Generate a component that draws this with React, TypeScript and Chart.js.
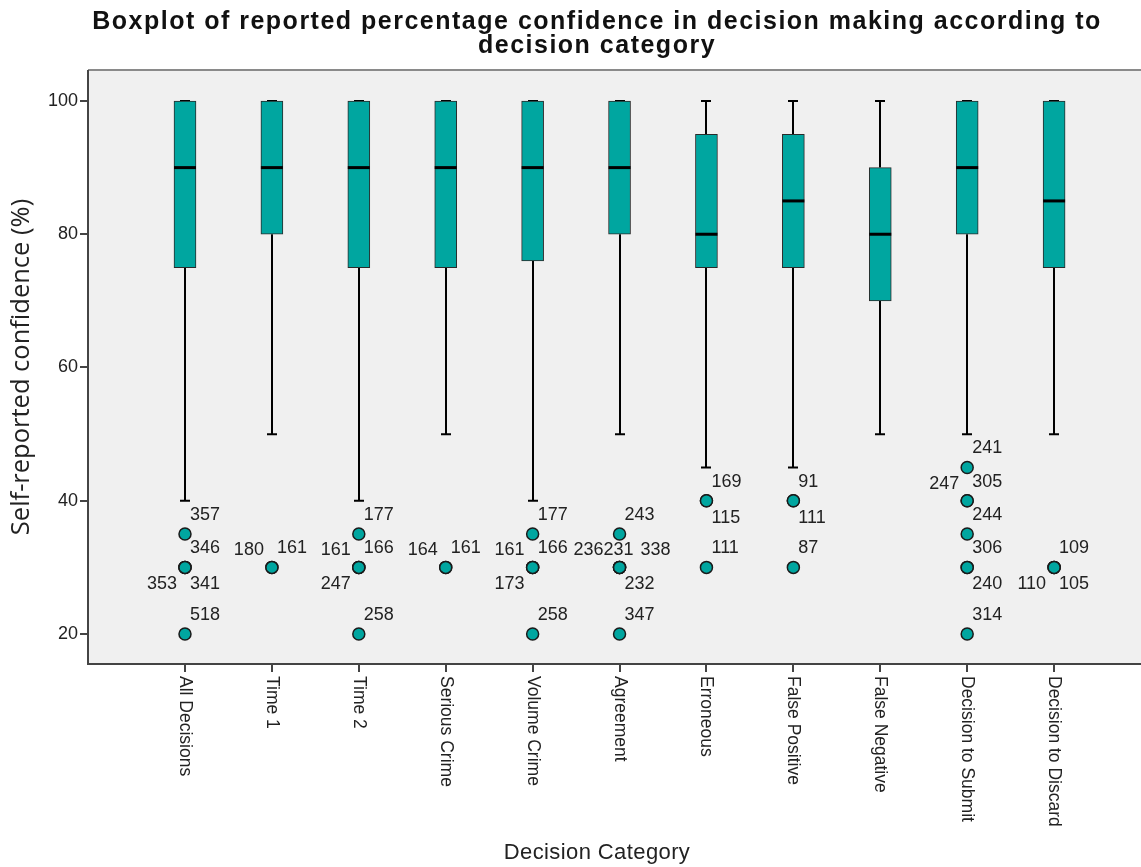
import React, { useEffect, useRef } from "react";
import { Chart, registerables } from "chart.js";

Chart.register(...registerables);

const categories = [
  "All Decisions",
  "Time 1",
  "Time 2",
  "Serious Crime",
  "Volume Crime",
  "Agreement",
  "Erroneous",
  "False Positive",
  "False Negative",
  "Decision to Submit",
  "Decision to Discard",
];
const whiskerLow = [40, 50, 40, 50, 40, 50, 45, 45, 50, 50, 50];
const q1 = [75, 80, 75, 75, 76, 80, 75, 75, 70, 80, 75];
const median = [90, 90, 90, 90, 90, 90, 80, 85, 80, 90, 85];
const q3 = [100, 100, 100, 100, 100, 100, 95, 95, 90, 100, 100];
const whiskerHigh = [100, 100, 100, 100, 100, 100, 100, 100, 100, 100, 100];

// outliers: category index, value, case id, label side
const outlierCat = [
  0, 0, 0, 0, 0,
  1, 1,
  2, 2, 2, 2, 2,
  3, 3,
  4, 4, 4, 4, 4,
  5, 5, 5, 5, 5, 5,
  6, 6, 6,
  7, 7, 7,
  9, 9, 9, 9, 9, 9, 9,
  10, 10, 10,
];
const outlierValue = [
  35, 30, 30, 30, 20,
  30, 30,
  35, 30, 30, 30, 20,
  30, 30,
  35, 30, 30, 30, 20,
  35, 30, 30, 30, 30, 20,
  40, 40, 30,
  40, 40, 30,
  45, 40, 40, 35, 30, 30, 20,
  30, 30, 30,
];
const outlierId = [
  "357", "346", "353", "341", "518",
  "180", "161",
  "177", "161", "166", "247", "258",
  "164", "161",
  "177", "161", "166", "173", "258",
  "243", "236", "231", "338", "232", "347",
  "169", "115", "111",
  "91", "111", "87",
  "241", "247", "305", "244", "306", "240", "314",
  "109", "110", "105",
];
const outlierSide = [
  "ur", "ur", "ll", "lr", "ur",
  "ul", "ur",
  "ur", "ul", "ur", "ll", "ur",
  "ul", "ur",
  "ur", "ul", "ur", "ll", "ur",
  "ur", "ul2", "uc", "ur2", "lr", "ur",
  "ur", "lr", "ur",
  "ur", "lr", "ur",
  "ur", "ul", "ur", "ur", "ur", "lr", "ur",
  "ur", "ll", "lr",
];

const titleLines = [
  "Boxplot of reported percentage confidence in decision making according to",
  "decision category",
];
const yTitle = "Self-reported confidence (%)";
const xTitle = "Decision Category";
const yTicks = [20, 40, 60, 80, 100];

const TEAL = "#00a6a0";
const SANS = "'Liberation Sans', Arial, sans-serif";

const boxPlugin = {
  id: "boxExtras",
  beforeDraw(chart: any) {
    const { ctx, chartArea } = chart;
    ctx.save();
    ctx.fillStyle = "#ffffff";
    ctx.fillRect(0, 0, chart.width, chart.height);
    ctx.fillStyle = "#f0f0f0";
    ctx.fillRect(chartArea.left, chartArea.top, chartArea.right - chartArea.left, chartArea.bottom - chartArea.top);
    ctx.restore();
  },
  beforeDatasetsDraw(chart: any) {
    const { ctx } = chart;
    const xs = chart.scales.x;
    const ys = chart.scales.y;
    ctx.save();
    ctx.strokeStyle = "#000";
    ctx.lineWidth = 2;
    categories.forEach((_, i) => {
      const x = Math.round(xs.getPixelForValue(i));
      const lo = ys.getPixelForValue(whiskerLow[i]);
      const b = ys.getPixelForValue(q1[i]);
      const t = ys.getPixelForValue(q3[i]);
      const hi = ys.getPixelForValue(whiskerHigh[i]);
      ctx.beginPath();
      ctx.moveTo(x, lo);
      ctx.lineTo(x, b);
      ctx.moveTo(x, t);
      ctx.lineTo(x, hi);
      ctx.stroke();
      ctx.beginPath();
      ctx.moveTo(x - 5, lo);
      ctx.lineTo(x + 5, lo);
      ctx.moveTo(x - 5, hi);
      ctx.lineTo(x + 5, hi);
      ctx.stroke();
    });
    ctx.restore();
  },
  afterDatasetsDraw(chart: any) {
    const { ctx, chartArea } = chart;
    const xs = chart.scales.x;
    const ys = chart.scales.y;
    ctx.save();
    // medians
    ctx.strokeStyle = "#000";
    ctx.lineWidth = 3;
    categories.forEach((_, i) => {
      const x = xs.getPixelForValue(i);
      const m = ys.getPixelForValue(median[i]);
      ctx.beginPath();
      ctx.moveTo(x - 11, m);
      ctx.lineTo(x + 11, m);
      ctx.stroke();
    });
    // outlier labels
    ctx.fillStyle = "#222";
    ctx.font = "18px " + SANS;
    ctx.textBaseline = "middle";
    outlierId.forEach((id, k) => {
      const px = xs.getPixelForValue(outlierCat[k]);
      const py = ys.getPixelForValue(outlierValue[k]);
      const side = outlierSide[k];
      let tx = px + 5;
      let ty = py - 18;
      let align: CanvasTextAlign = "left";
      if (side === "ur") { tx = px + 5; ty = py - 19; }
      else if (side === "lr") { tx = px + 5; ty = py + 17; }
      else if (side === "ul") { tx = px - 8; ty = py - 17; align = "right"; }
      else if (side === "ll") { tx = px - 8; ty = py + 17; align = "right"; }
      else if (side === "uc") { tx = px - 16; ty = py - 17; }
      else if (side === "ul2") { tx = px - 16; ty = py - 17; align = "right"; }
      else if (side === "ur2") { tx = px + 21; ty = py - 17; }
      ctx.textAlign = align;
      ctx.fillText(id, tx, ty);
    });
    ctx.restore();

    // frame lines
    ctx.save();
    ctx.strokeStyle = "#8a8a8a";
    ctx.lineWidth = 2;
    ctx.beginPath();
    ctx.moveTo(chartArea.left, chartArea.top);
    ctx.lineTo(chartArea.right, chartArea.top);
    ctx.stroke();
    ctx.strokeStyle = "#444";
    ctx.beginPath();
    ctx.moveTo(chartArea.left, chartArea.top);
    ctx.lineTo(chartArea.left, chartArea.bottom);
    ctx.lineTo(chartArea.right, chartArea.bottom);
    ctx.stroke();
    ctx.restore();
  },
  afterDraw(chart: any) {
    const { ctx, chartArea } = chart;
    const xs = chart.scales.x;
    ctx.save();
    // x tick marks and rotated labels
    ctx.strokeStyle = "#444";
    ctx.lineWidth = 2;
    ctx.fillStyle = "#222";
    ctx.font = "17.5px " + SANS;
    categories.forEach((c, i) => {
      const x = Math.round(xs.getPixelForValue(i));
      ctx.beginPath();
      ctx.moveTo(x, chartArea.bottom);
      ctx.lineTo(x, chartArea.bottom + 8);
      ctx.stroke();
      ctx.save();
      ctx.translate(x, chartArea.bottom + 12);
      ctx.rotate(Math.PI / 2);
      ctx.textAlign = "left";
      ctx.textBaseline = "middle";
      ctx.fillText(c, 0, 0);
      ctx.restore();
    });
    // titles
    ctx.fillStyle = "#111";
    ctx.textAlign = "center";
    ctx.textBaseline = "middle";
    ctx.font = "bold 25px " + SANS;
    (ctx as any).letterSpacing = "1.5px";
    ctx.fillText(titleLines[0], 597, 22);
    ctx.fillText(titleLines[1], 597, 46);
    ctx.font = "22px " + SANS;
    (ctx as any).letterSpacing = "0.4px";
    ctx.fillStyle = "#222";
    ctx.fillText(xTitle, 597, 853);
    (ctx as any).letterSpacing = "0px";
    ctx.save();
    ctx.translate(22, 367);
    ctx.rotate(-Math.PI / 2);
    ctx.font = "25.5px 'Open Sans', 'Noto Sans', sans-serif";
    ctx.fillText(yTitle, 0, 0);
    ctx.restore();
    ctx.restore();
  },
};

export default function App() {
  const ref = useRef<HTMLCanvasElement>(null);
  useEffect(() => {
    document.body.style.margin = "0";
    const canvas = ref.current!;
    const boxData = categories.map((_, i) => ({ x: i, y: [q1[i], q3[i]] }));
    const outData = outlierValue.map((v, k) => ({ x: outlierCat[k], y: v }));
    const chart = new Chart(canvas, {
      type: "bar",
      data: {
        datasets: [
          {
            type: "bar",
            data: boxData as any,
            backgroundColor: TEAL,
            borderColor: "#2a2a2a",
            borderWidth: 1,
            borderSkipped: false,
            barThickness: 22,
          } as any,
          {
            type: "scatter",
            data: outData as any,
            backgroundColor: TEAL,
            borderColor: "#1a1a1a",
            borderWidth: 1.5,
            pointRadius: 6,
          } as any,
        ],
      },
      options: {
        animation: false,
        responsive: false,
        maintainAspectRatio: false,
        events: [],
        layout: { autoPadding: false, padding: { top: 70, left: 0, right: 0, bottom: 0 } },
        plugins: { legend: { display: false }, tooltip: { enabled: false }, title: { display: false } },
        scales: {
          x: {
            type: "linear",
            min: -1.116,
            max: 11.0,
            offset: false,
            grid: { display: false, drawTicks: false },
            border: { display: false },
            ticks: { display: false },
            afterFit: (s: any) => { s.height = 867 - 664; },
          },
          y: {
            type: "linear",
            min: 15.5,
            max: 104.65,
            grid: { drawOnChartArea: false, drawTicks: true, tickLength: 8, color: "#444", lineWidth: 2 },
            border: { display: false },
            afterBuildTicks: (s: any) => { s.ticks = yTicks.map((v) => ({ value: v })); },
            ticks: {
              font: { family: SANS, size: 18 },
              color: "#222",
              padding: 2,
            },
            afterFit: (s: any) => { s.width = 88; },
          },
        },
      },
      plugins: [boxPlugin],
    });
    return () => chart.destroy();
  }, []);
  return <canvas ref={ref} width={1141} height={867} style={{ display: "block" }} />;
}
